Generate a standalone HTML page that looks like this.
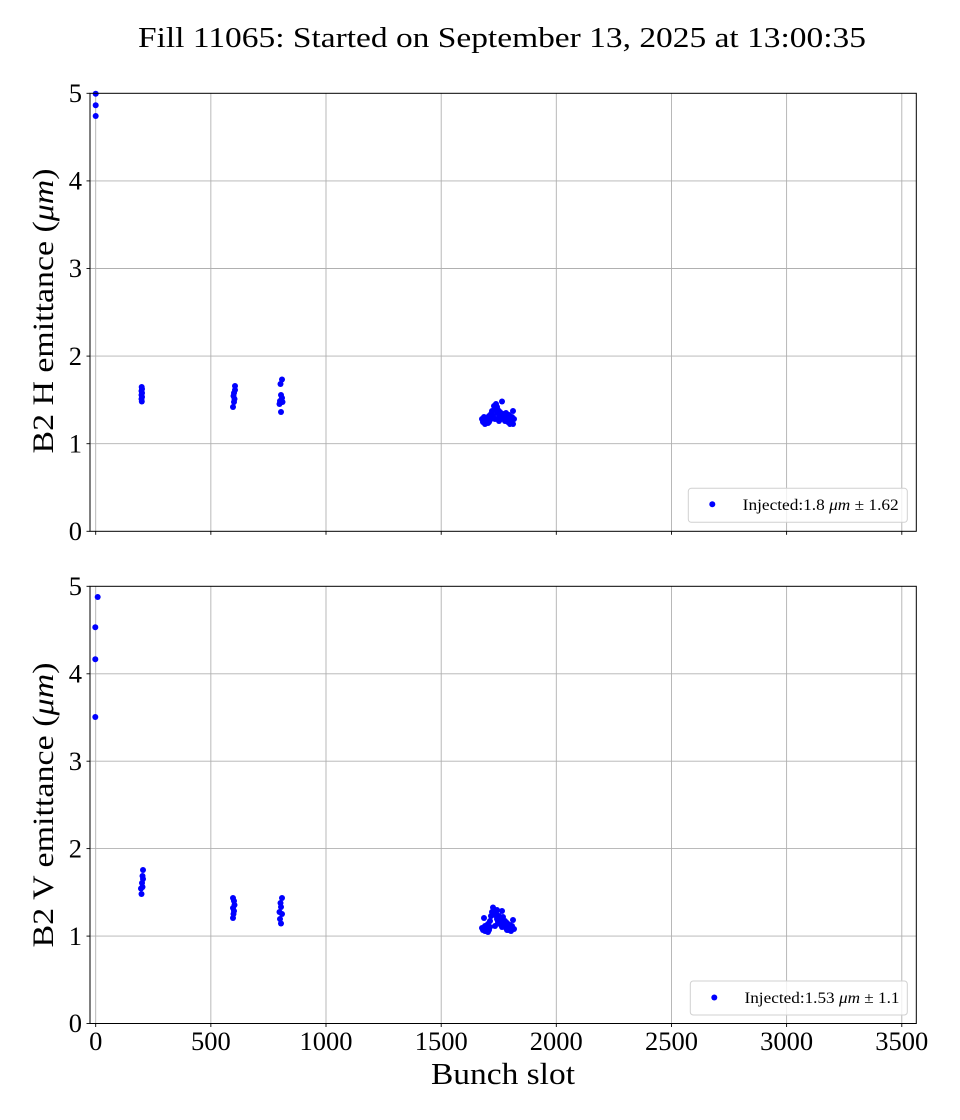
<!DOCTYPE html>
<html>
<head>
<meta charset="utf-8">
<style>
html,body{margin:0;padding:0;background:#fff;}
svg{display:block;}
text{font-family:"Liberation Serif","DejaVu Serif",serif;fill:#000;}
</style>
</head>
<body>
<svg width="960" height="1120" viewBox="0 0 960 1120" xmlns="http://www.w3.org/2000/svg">
<rect width="960" height="1120" fill="#fff"/>

<!-- Title -->
<text x="138" y="47" font-size="28.5" textLength="728" lengthAdjust="spacingAndGlyphs">Fill 11065: Started on September 13, 2025 at 13:00:35</text>

<!-- ===== TOP AXES ===== -->
<g stroke="#b0b0b0" stroke-width="0.9">
  <line x1="95.7" y1="93.3" x2="95.7" y2="531.3"/>
  <line x1="210.85" y1="93.3" x2="210.85" y2="531.3"/>
  <line x1="326" y1="93.3" x2="326" y2="531.3"/>
  <line x1="441.2" y1="93.3" x2="441.2" y2="531.3"/>
  <line x1="556.3" y1="93.3" x2="556.3" y2="531.3"/>
  <line x1="671.5" y1="93.3" x2="671.5" y2="531.3"/>
  <line x1="786.6" y1="93.3" x2="786.6" y2="531.3"/>
  <line x1="901.8" y1="93.3" x2="901.8" y2="531.3"/>
  <line x1="90" y1="443.7" x2="916.3" y2="443.7"/>
  <line x1="90" y1="356.1" x2="916.3" y2="356.1"/>
  <line x1="90" y1="268.5" x2="916.3" y2="268.5"/>
  <line x1="90" y1="180.9" x2="916.3" y2="180.9"/>
</g>
<g fill="#0000ff">
  <circle cx="95.7" cy="93.7" r="3"/><circle cx="95.7" cy="105.3" r="3"/><circle cx="95.7" cy="116" r="3"/>
  <circle cx="141.7" cy="387" r="3"/><circle cx="142" cy="389" r="3"/><circle cx="141.5" cy="391" r="3"/><circle cx="142" cy="393" r="3"/><circle cx="141.5" cy="395" r="3"/><circle cx="142" cy="397" r="3"/><circle cx="141.5" cy="399" r="3"/><circle cx="141.8" cy="401.5" r="3"/>
  <circle cx="235" cy="386" r="3"/><circle cx="235" cy="390" r="3"/><circle cx="234" cy="393" r="3"/><circle cx="233.5" cy="396" r="3"/><circle cx="234.5" cy="399" r="3"/><circle cx="234" cy="402" r="3"/><circle cx="233" cy="407" r="3"/>
  <circle cx="282" cy="379.5" r="3"/><circle cx="280.5" cy="384" r="3"/><circle cx="281" cy="395" r="3"/><circle cx="282" cy="398" r="3"/><circle cx="280" cy="401" r="3"/><circle cx="282.5" cy="402" r="3"/><circle cx="279.5" cy="404" r="3"/><circle cx="281" cy="412" r="3"/>
  <circle cx="482" cy="419" r="3"/><circle cx="483" cy="422" r="3"/><circle cx="484" cy="417" r="3"/><circle cx="485" cy="424" r="3"/><circle cx="486" cy="420" r="3"/><circle cx="487" cy="418" r="3"/><circle cx="488" cy="423" r="3"/><circle cx="489" cy="416" r="3"/><circle cx="490" cy="420" r="3"/><circle cx="491" cy="414" r="3"/><circle cx="492" cy="411" r="3"/><circle cx="493" cy="416" r="3"/><circle cx="494" cy="406" r="3"/><circle cx="495" cy="409" r="3"/><circle cx="496" cy="404" r="3"/><circle cx="497" cy="413" r="3"/><circle cx="498" cy="410" r="3"/><circle cx="499" cy="417" r="3"/><circle cx="500" cy="412" r="3"/><circle cx="502" cy="401.5" r="3"/><circle cx="501" cy="419" r="3"/><circle cx="503" cy="414" r="3"/><circle cx="504" cy="417" r="3"/><circle cx="505" cy="421" r="3"/><circle cx="506" cy="413" r="3"/><circle cx="507" cy="418" r="3"/><circle cx="508" cy="422" r="3"/><circle cx="509" cy="415" r="3"/><circle cx="510" cy="420" r="3"/><circle cx="511" cy="423" r="3"/><circle cx="512" cy="417" r="3"/><circle cx="513" cy="411" r="3"/><circle cx="514" cy="419" r="3"/><circle cx="489" cy="422" r="3"/><circle cx="486" cy="423" r="3"/><circle cx="495" cy="419" r="3"/><circle cx="505" cy="416" r="3"/><circle cx="510" cy="424" r="3"/><circle cx="513" cy="424" r="3"/><circle cx="492" cy="418" r="3"/><circle cx="497" cy="407" r="3"/><circle cx="499" cy="421" r="3"/>
</g>
<rect x="90" y="93.3" width="826.3" height="438" fill="none" stroke="#000" stroke-width="1"/>
<g stroke="#000" stroke-width="0.9">
  <line x1="86.5" y1="531.3" x2="90" y2="531.3"/>
  <line x1="86.5" y1="443.7" x2="90" y2="443.7"/>
  <line x1="86.5" y1="356.1" x2="90" y2="356.1"/>
  <line x1="86.5" y1="268.5" x2="90" y2="268.5"/>
  <line x1="86.5" y1="180.9" x2="90" y2="180.9"/>
  <line x1="86.5" y1="93.3" x2="90" y2="93.3"/>
  <line x1="95.7" y1="531.3" x2="95.7" y2="534.8"/>
  <line x1="210.85" y1="531.3" x2="210.85" y2="534.8"/>
  <line x1="326" y1="531.3" x2="326" y2="534.8"/>
  <line x1="441.2" y1="531.3" x2="441.2" y2="534.8"/>
  <line x1="556.3" y1="531.3" x2="556.3" y2="534.8"/>
  <line x1="671.5" y1="531.3" x2="671.5" y2="534.8"/>
  <line x1="786.6" y1="531.3" x2="786.6" y2="534.8"/>
  <line x1="901.8" y1="531.3" x2="901.8" y2="534.8"/>
</g>
<g font-size="26.5" text-anchor="end">
  <text x="82" y="540">0</text>
  <text x="82" y="452.4">1</text>
  <text x="82" y="364.8">2</text>
  <text x="82" y="277.2">3</text>
  <text x="82" y="189.6">4</text>
  <text x="82" y="102">5</text>
</g>
<text transform="translate(53,311) rotate(-90)" font-size="29.5" text-anchor="middle" textLength="285" lengthAdjust="spacingAndGlyphs">B2 H emittance (<tspan font-style="italic">μm</tspan>)</text>
<!-- legend top -->
<rect x="688.3" y="488.3" width="219" height="34" rx="3" ry="3" fill="#fff" fill-opacity="0.8" stroke="#d0d0d0" stroke-width="1"/>
<circle cx="712.3" cy="504.3" r="3" fill="#0000ff"/>
<text x="742.7" y="510" font-size="15.5" textLength="156" lengthAdjust="spacingAndGlyphs">Injected:1.8 <tspan font-style="italic">μm</tspan> ± 1.62</text>

<!-- ===== BOTTOM AXES ===== -->
<g stroke="#b0b0b0" stroke-width="0.9">
  <line x1="95.7" y1="586.3" x2="95.7" y2="1023.5"/>
  <line x1="210.85" y1="586.3" x2="210.85" y2="1023.5"/>
  <line x1="326" y1="586.3" x2="326" y2="1023.5"/>
  <line x1="441.2" y1="586.3" x2="441.2" y2="1023.5"/>
  <line x1="556.3" y1="586.3" x2="556.3" y2="1023.5"/>
  <line x1="671.5" y1="586.3" x2="671.5" y2="1023.5"/>
  <line x1="786.6" y1="586.3" x2="786.6" y2="1023.5"/>
  <line x1="901.8" y1="586.3" x2="901.8" y2="1023.5"/>
  <line x1="90" y1="936.1" x2="916.3" y2="936.1"/>
  <line x1="90" y1="848.6" x2="916.3" y2="848.6"/>
  <line x1="90" y1="761.2" x2="916.3" y2="761.2"/>
  <line x1="90" y1="673.8" x2="916.3" y2="673.8"/>
</g>
<g fill="#0000ff">
  <circle cx="97.7" cy="597" r="3"/><circle cx="95.3" cy="627.3" r="3"/><circle cx="95.3" cy="659.3" r="3"/><circle cx="95.3" cy="717" r="3"/>
  <circle cx="143" cy="870" r="3"/><circle cx="142.5" cy="876" r="3"/><circle cx="143" cy="879" r="3"/><circle cx="142" cy="883" r="3"/><circle cx="142.5" cy="887" r="3"/><circle cx="141" cy="888.5" r="3"/><circle cx="141.5" cy="894" r="3"/>
  <circle cx="233" cy="898" r="3"/><circle cx="234" cy="901" r="3"/><circle cx="234.5" cy="905" r="3"/><circle cx="233" cy="908" r="3"/><circle cx="234" cy="911" r="3"/><circle cx="233.5" cy="914" r="3"/><circle cx="233" cy="918" r="3"/>
  <circle cx="282" cy="898" r="3"/><circle cx="280.5" cy="903" r="3"/><circle cx="281" cy="907" r="3"/><circle cx="279.5" cy="912" r="3"/><circle cx="282" cy="914" r="3"/><circle cx="280" cy="919" r="3"/><circle cx="281" cy="923.5" r="3"/>
  <circle cx="482" cy="928" r="3"/><circle cx="483" cy="930" r="3"/><circle cx="484" cy="918" r="3"/><circle cx="485" cy="926" r="3"/><circle cx="486" cy="931" r="3"/><circle cx="487" cy="928" r="3"/><circle cx="488" cy="924" r="3"/><circle cx="489" cy="930" r="3"/><circle cx="490" cy="921" r="3"/><circle cx="491" cy="916" r="3"/><circle cx="492" cy="912" r="3"/><circle cx="493" cy="907.5" r="3"/><circle cx="494" cy="910" r="3"/><circle cx="495" cy="915" r="3"/><circle cx="496" cy="913" r="3"/><circle cx="497" cy="919" r="3"/><circle cx="498" cy="922" r="3"/><circle cx="499" cy="916" r="3"/><circle cx="500" cy="924" r="3"/><circle cx="501" cy="920" r="3"/><circle cx="502" cy="911" r="3"/><circle cx="503" cy="917" r="3"/><circle cx="504" cy="925" r="3"/><circle cx="505" cy="921" r="3"/><circle cx="506" cy="928" r="3"/><circle cx="507" cy="923" r="3"/><circle cx="508" cy="927" r="3"/><circle cx="509" cy="930" r="3"/><circle cx="510" cy="925" r="3"/><circle cx="511" cy="931" r="3"/><circle cx="512" cy="926" r="3"/><circle cx="513" cy="920" r="3"/><circle cx="514" cy="929" r="3"/><circle cx="485" cy="931" r="3"/><circle cx="488" cy="932" r="3"/><circle cx="495" cy="926" r="3"/><circle cx="502" cy="927" r="3"/><circle cx="507" cy="930" r="3"/><circle cx="497" cy="910" r="3"/><circle cx="490" cy="927" r="3"/>
</g>
<rect x="90" y="586.3" width="826.3" height="437.2" fill="none" stroke="#000" stroke-width="1"/>
<g stroke="#000" stroke-width="0.9">
  <line x1="86.5" y1="1023.5" x2="90" y2="1023.5"/>
  <line x1="86.5" y1="936.1" x2="90" y2="936.1"/>
  <line x1="86.5" y1="848.6" x2="90" y2="848.6"/>
  <line x1="86.5" y1="761.2" x2="90" y2="761.2"/>
  <line x1="86.5" y1="673.8" x2="90" y2="673.8"/>
  <line x1="86.5" y1="586.3" x2="90" y2="586.3"/>
  <line x1="95.7" y1="1023.5" x2="95.7" y2="1027"/>
  <line x1="210.85" y1="1023.5" x2="210.85" y2="1027"/>
  <line x1="326" y1="1023.5" x2="326" y2="1027"/>
  <line x1="441.2" y1="1023.5" x2="441.2" y2="1027"/>
  <line x1="556.3" y1="1023.5" x2="556.3" y2="1027"/>
  <line x1="671.5" y1="1023.5" x2="671.5" y2="1027"/>
  <line x1="786.6" y1="1023.5" x2="786.6" y2="1027"/>
  <line x1="901.8" y1="1023.5" x2="901.8" y2="1027"/>
</g>
<g font-size="26.5" text-anchor="end">
  <text x="82" y="1032.2">0</text>
  <text x="82" y="944.8">1</text>
  <text x="82" y="857.3">2</text>
  <text x="82" y="769.9">3</text>
  <text x="82" y="682.5">4</text>
  <text x="82" y="595">5</text>
</g>
<g font-size="26.5" text-anchor="middle">
  <text x="95.7" y="1050">0</text>
  <text x="210.85" y="1050">500</text>
  <text x="326" y="1050">1000</text>
  <text x="441.2" y="1050">1500</text>
  <text x="556.3" y="1050">2000</text>
  <text x="671.5" y="1050">2500</text>
  <text x="786.6" y="1050">3000</text>
  <text x="901.8" y="1050">3500</text>
</g>
<text transform="translate(53,805) rotate(-90)" font-size="29.5" text-anchor="middle" textLength="285" lengthAdjust="spacingAndGlyphs">B2 V emittance (<tspan font-style="italic">μm</tspan>)</text>
<text x="431" y="1084" font-size="31" textLength="144" lengthAdjust="spacingAndGlyphs">Bunch slot</text>
<!-- legend bottom -->
<rect x="690.3" y="981" width="217" height="34" rx="3" ry="3" fill="#fff" fill-opacity="0.8" stroke="#d0d0d0" stroke-width="1"/>
<circle cx="714.3" cy="997.5" r="3" fill="#0000ff"/>
<text x="744.5" y="1003" font-size="15.5" textLength="155" lengthAdjust="spacingAndGlyphs">Injected:1.53 <tspan font-style="italic">μm</tspan> ± 1.1</text>
</svg>
</body>
</html>
